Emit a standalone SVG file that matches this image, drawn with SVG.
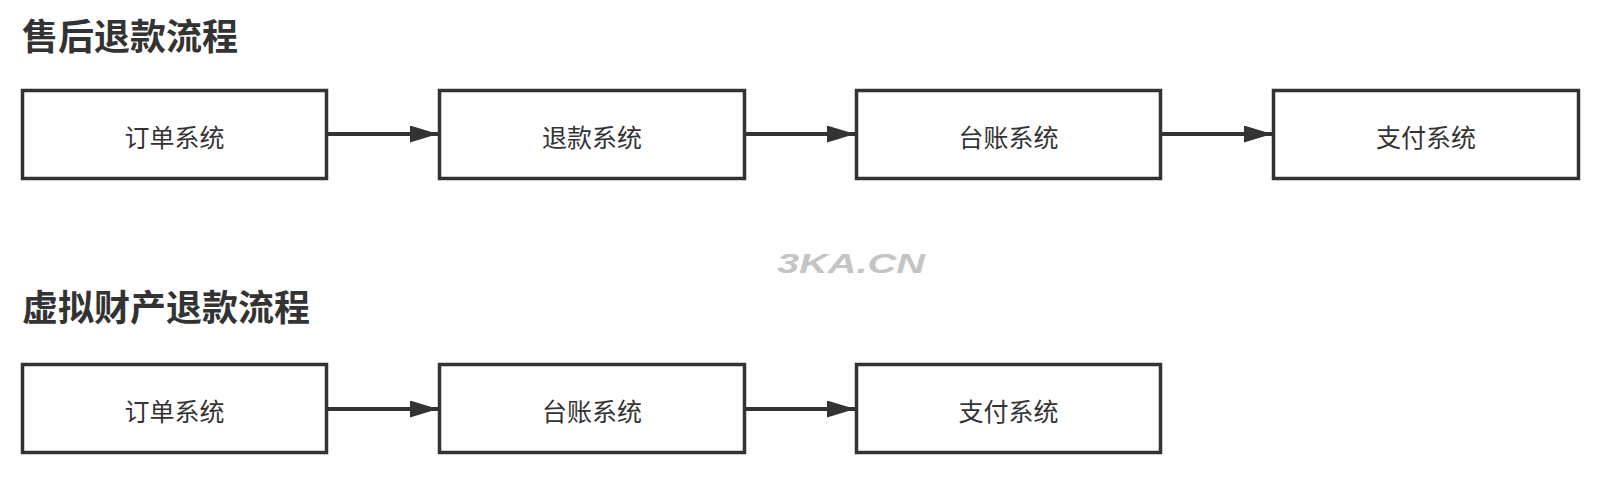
<svg xmlns="http://www.w3.org/2000/svg" width="1599" height="481" viewBox="0 0 1599 481">
<style>
.title{font-family:"Noto Sans CJK SC","Noto Sans",sans-serif;font-weight:bold;font-size:36px;fill:#333}
.box{fill:#fff;stroke:#333;stroke-width:3.5}
.lbl{font-family:"Noto Sans CJK SC","Noto Sans",sans-serif;font-size:25px;fill:#333;text-anchor:middle;dominant-baseline:central}
.edge{stroke:#333;stroke-width:4;fill:none;marker-end:url(#arr)}
.wm{font-family:"Liberation Sans",sans-serif;font-weight:bold;font-style:italic;font-size:28px;fill:#c4c4c4}
</style>
<defs>
<marker id="arr" markerWidth="28" markerHeight="17" refX="28" refY="8.5" orient="auto" markerUnits="userSpaceOnUse" viewBox="0 0 28 17">
<path d="M0,0 L28,8.5 L0,17 Z" fill="#333"/>
</marker>
</defs>
<rect width="1599" height="481" fill="#fff"/>
<text class="title" x="22" y="50">售后退款流程</text>
<text class="title" x="22" y="321">虚拟财产退款流程</text>
<g id="a1"><rect class="box" x="22.5" y="90.5" width="304" height="88"/><text class="lbl" x="174.5" y="136">订单系统</text></g>
<g id="a2"><rect class="box" x="439.5" y="90.5" width="305" height="88"/><text class="lbl" x="592" y="136">退款系统</text></g>
<g id="a3"><rect class="box" x="856.5" y="90.5" width="304" height="88"/><text class="lbl" x="1008.5" y="136">台账系统</text></g>
<g id="a4"><rect class="box" x="1273.5" y="90.5" width="305" height="88"/><text class="lbl" x="1426" y="136">支付系统</text></g>
<g id="b1"><rect class="box" x="22.5" y="364.5" width="304" height="88"/><text class="lbl" x="174.5" y="410">订单系统</text></g>
<g id="b2"><rect class="box" x="439.5" y="364.5" width="305" height="88"/><text class="lbl" x="592" y="410">台账系统</text></g>
<g id="b3"><rect class="box" x="856.5" y="364.5" width="304" height="88"/><text class="lbl" x="1008.5" y="410">支付系统</text></g>
<g id="connectors">
<line class="edge" x1="328" y1="134" x2="438" y2="134"/>
<line class="edge" x1="746" y1="134" x2="855" y2="134"/>
<line class="edge" x1="1162" y1="134" x2="1272" y2="134"/>
<line class="edge" x1="328" y1="409" x2="438" y2="409"/>
<line class="edge" x1="746" y1="409" x2="855" y2="409"/>
</g>
<text class="wm" x="777" y="273" textLength="148" lengthAdjust="spacingAndGlyphs">3KA.CN</text>
</svg>
